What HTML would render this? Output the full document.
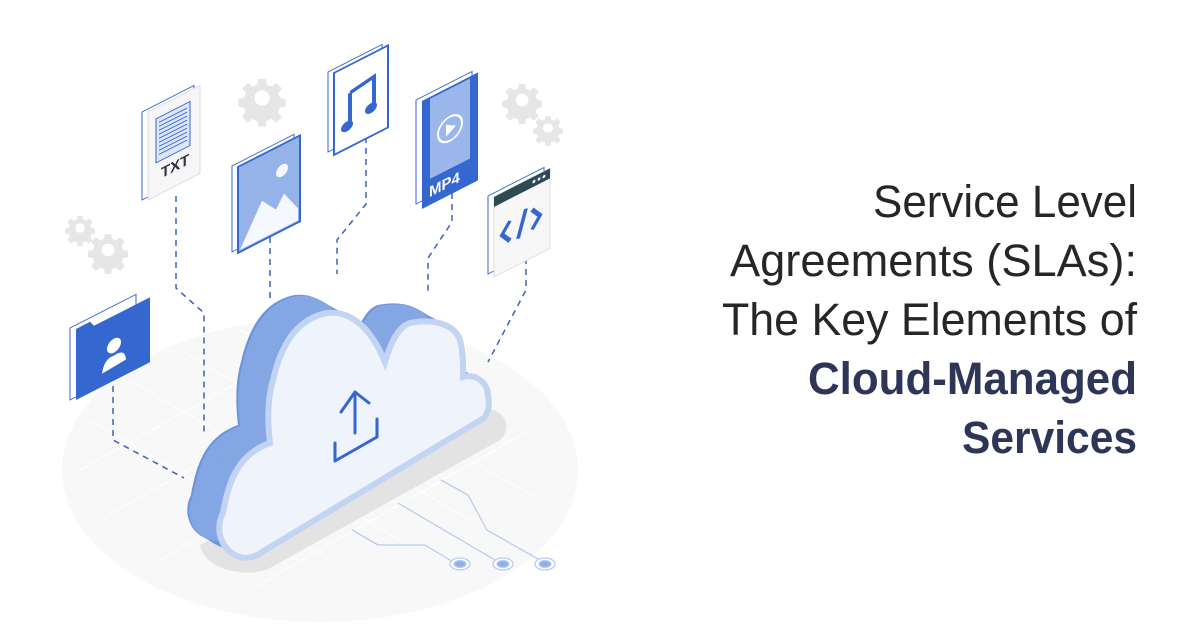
<!DOCTYPE html>
<html><head><meta charset="utf-8"><style>
html,body{margin:0;padding:0;background:#fff;}
svg{display:block;}
</style></head><body>
<svg width="1200" height="628" viewBox="0 0 1200 628" xmlns="http://www.w3.org/2000/svg">
<defs>
<path id="cl" d="M240,557 C222,552 214,530 223,513 C228,485 236,455 270,443 C266,410 270,390 273,380 C282,340 300,318 327,313 C352,310 372,330 385,362 C392,338 400,326 410,323 C435,318 455,325 460,340 C464,355 463,370 463,377 C478,373 488,385 488,395 C490,405 488,413 484,418 L262,552 C255,557 247,559 240,557 Z"/>
<g id="gear"><path d="M-4,-20 h8 l1,6 l5,2 l5,-4 l6,6 l-4,5 l2,5 l6,1 v8 l-6,1 l-2,5 l4,5 l-6,6 l-5,-4 l-5,2 l-1,6 h-8 l-1,-6 l-5,-2 l-5,4 l-6,-6 l4,-5 l-2,-5 l-6,-1 v-8 l6,-1 l2,-5 l-4,-5 l6,-6 l5,4 l5,-2 z M0,-8 a8,8 0 1,0 0.1,0 z" fill="#e6e6e6" fill-rule="evenodd"/></g>
</defs>
<!-- floor -->
<ellipse cx="320" cy="470" rx="258" ry="152" fill="#f8f8f8"/>
<g stroke="#fff" stroke-width="1.2" opacity="0.9">
<path d="M90,420 L330,560 M130,380 L400,540 M180,350 L470,520 M240,330 L540,500 M100,520 L400,350 M160,560 L460,390 M250,590 L530,430 M80,470 L350,320"/>
</g>
<!-- gears -->
<use href="#gear" transform="translate(262,98) scale(0.95)"/>
<use href="#gear" transform="translate(80,228) scale(0.6)"/>
<use href="#gear" transform="translate(108,250) scale(0.8)"/>
<use href="#gear" transform="translate(522,100) scale(0.8)"/>
<use href="#gear" transform="translate(548,128) scale(0.6)"/>
<!-- dashed connectors -->
<g fill="none" stroke="#3a63b8" stroke-width="1.5" stroke-dasharray="6,5">
<path d="M113,386 V440 L184,478"/>
<path d="M176,196 V288 L204,313 V432"/>
<path d="M270,226 V298"/>
<path d="M366,126 V204 L337,240 V274"/>
<path d="M452,182 V222 L428,258 V294"/>
<path d="M526,258 V290 L488,362"/>
</g>
<!-- shadow -->
<path d="M200,545 L470,410 C490,400 520,420 500,440 L270,568 C250,578 205,572 200,545 Z" fill="#e3e3e3"/>
<!-- cloud extrusion -->
<g fill="#6b94dd">
<use href="#cl" transform="translate(-32,-18)"/><use href="#cl" transform="translate(-28,-16)"/><use href="#cl" transform="translate(-24,-13.5)"/><use href="#cl" transform="translate(-20,-11)"/><use href="#cl" transform="translate(-16,-9)"/><use href="#cl" transform="translate(-12,-7)"/><use href="#cl" transform="translate(-8,-4.5)"/><use href="#cl" transform="translate(-4,-2)"/>
</g>
<use href="#cl" transform="translate(-30,-17)" fill="#94b3e8" opacity="0.6"/>
<use href="#cl" fill="#eef3fc" stroke="#c3d3f2" stroke-width="6"/>
<!-- upload icon -->
<g fill="none" stroke="#3467cf" stroke-width="3" stroke-linecap="round" stroke-linejoin="round">
<path d="M355,433 V392 M341,412 L355,392 L369,403"/>
<path d="M335,443 V461 L377,437 V419"/>
</g>
<!-- circuit -->
<g fill="none" stroke="#b9ccef" stroke-width="1.3">
<path d="M352,530 L378,545 L425,545 L455,563"/>
<path d="M398,503 L500,563"/>
<path d="M441,480 L468,495 L487,530 L545,563"/>
</g>
<g fill="#8fb0ea" stroke="#b9ccef" stroke-width="1.3">
<ellipse cx="460" cy="564" rx="10" ry="6" fill="#fff"/><ellipse cx="460" cy="564" rx="6" ry="3.5"/>
<ellipse cx="503" cy="564" rx="10" ry="6" fill="#fff"/><ellipse cx="503" cy="564" rx="6" ry="3.5"/>
<ellipse cx="545" cy="564" rx="10" ry="6" fill="#fff"/><ellipse cx="545" cy="564" rx="6" ry="3.5"/>
</g>
<!-- folder -->
<g transform="translate(70,328) skewY(-27)">
<rect x="0" y="0" width="66" height="72" fill="#fff" stroke="#3467cf" stroke-width="1"/>
<path d="M6,4 H20 L24,10 H80 V75 H6 Z" fill="#3467cf"/>
<circle cx="44" cy="40" r="7" fill="#fff"/>
<path d="M32,62 Q34,48 44,50 Q55,48 56,60 Z" fill="#fff"/>
</g>
<!-- TXT -->
<g transform="translate(142,112) skewY(-27)">
<rect x="0" y="0" width="52" height="88" fill="#fff" stroke="#3467cf" stroke-width="1"/>
<rect x="6" y="3" width="52" height="88" fill="#f6f6f6" stroke="#ddd"/>
<rect x="14" y="14" width="34" height="44" fill="#dde6f8" stroke="#3467cf"/>
<g stroke="#3467cf" stroke-width="1"><path d="M17,19h28M17,23h28M17,27h28M17,31h28M17,35h28M17,39h28M17,43h28M17,47h28M17,51h28"/></g>
<text x="19" y="76" font-family="Liberation Sans,sans-serif" font-weight="bold" font-size="15" fill="#334">TXT</text>
</g>
<!-- image -->
<g transform="translate(232,166) skewY(-27)">
<rect x="0" y="0" width="62" height="86" fill="#fff" stroke="#3467cf"/>
<rect x="6" y="4" width="62" height="86" fill="#95b2e9" stroke="#3467cf" stroke-width="2"/>
<path d="M8,88 L30,50 L44,66 L52,54 L66,76 V88 Z" fill="#f5f8fe"/>
<circle cx="50" cy="30" r="6" fill="#f5f8fe"/>
</g>
<!-- music -->
<g transform="translate(328,72) skewY(-27)">
<rect x="0" y="0" width="54" height="80" fill="#fff" stroke="#3467cf"/>
<rect x="6" y="4" width="54" height="82" fill="#fff" stroke="#3467cf" stroke-width="2"/>
<path d="M22,32 V62 M22,32 L46,28 V56" stroke="#3467cf" stroke-width="4" fill="none"/>
<ellipse cx="19" cy="64" rx="6" ry="5" fill="#3467cf"/><ellipse cx="43" cy="58" rx="6" ry="5" fill="#3467cf"/>
</g>
<!-- MP4 -->
<g transform="translate(416,100) skewY(-27)">
<rect x="0" y="0" width="56" height="104" fill="#fff" stroke="#3467cf"/>
<rect x="6" y="4" width="56" height="108" fill="#3467cf"/>
<rect x="14" y="6" width="40" height="80" fill="#9ab6ea"/>
<circle cx="34" cy="46" r="12" fill="none" stroke="#fff" stroke-width="2"/>
<path d="M30,40 L40,46 L30,52 Z" fill="#fff"/>
<text x="13" y="104" font-family="Liberation Sans,sans-serif" font-weight="bold" font-size="15" fill="#fff">MP4</text>
</g>
<!-- code -->
<g transform="translate(488,196) skewY(-27)">
<rect x="0" y="0" width="56" height="78" fill="#fff" stroke="#3467cf"/>
<rect x="6" y="4" width="56" height="80" fill="#f7f7f7" stroke="#ddd"/>
<rect x="6" y="4" width="56" height="10" fill="#2e4a52"/>
<g fill="#fff"><circle cx="46" cy="9" r="1.5"/><circle cx="51" cy="9" r="1.5"/><circle cx="56" cy="9" r="1.5"/></g>
<path d="M22,36 L14,46 L22,56 M30,58 L38,32 M44,36 L52,46 L44,56" stroke="#3467cf" stroke-width="4" fill="none"/>
</g>
<!-- title -->
<g font-family="Liberation Sans,Arial,sans-serif" font-size="45" text-anchor="end">
<text x="1137" y="217" fill="#262626" textLength="264" lengthAdjust="spacingAndGlyphs">Service Level</text>
<text x="1137" y="276" fill="#262626" textLength="407" lengthAdjust="spacingAndGlyphs">Agreements (SLAs):</text>
<text x="1137" y="335" fill="#262626" textLength="415" lengthAdjust="spacingAndGlyphs">The Key Elements of</text>
<text x="1137" y="394" fill="#2e3658" font-weight="bold" textLength="329" lengthAdjust="spacingAndGlyphs">Cloud-Managed</text>
<text x="1137" y="453" fill="#2e3658" font-weight="bold" textLength="175" lengthAdjust="spacingAndGlyphs">Services</text>
</g>
</svg>
</body></html>
